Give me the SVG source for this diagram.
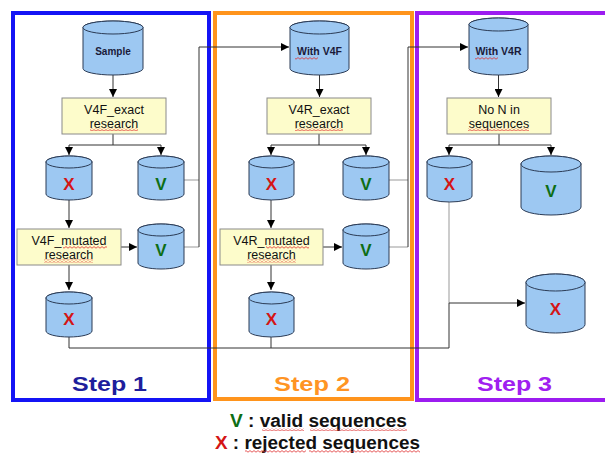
<svg xmlns="http://www.w3.org/2000/svg" width="605" height="453" viewBox="0 0 605 453">
<defs>
<style>
.cyl{fill:#9dc8f2;stroke:#2b3b55;stroke-width:1}
.box{fill:#fdfccb;stroke:#8a8a8a;stroke-width:1}
.lbl{font-family:"Liberation Sans",Arial,sans-serif;font-size:12.5px;fill:#111;text-anchor:middle}
.cl{font-family:"Liberation Sans",Arial,sans-serif;font-size:10.5px;font-weight:bold;fill:#1a1a3a;text-anchor:middle}
.x{font-family:"Liberation Sans",Arial,sans-serif;font-size:17px;font-weight:bold;fill:#d41515;text-anchor:middle}
.v{font-family:"Liberation Sans",Arial,sans-serif;font-size:17px;font-weight:bold;fill:#0d6e16;text-anchor:middle}
.step{font-family:"Liberation Sans",Arial,sans-serif;font-size:20px;font-weight:bold}
.leg{font-family:"Liberation Sans",Arial,sans-serif;font-size:18px;font-weight:bold;fill:#111}
.ln{fill:none;stroke:#333;stroke-width:1}
.lg{fill:none;stroke:#999;stroke-width:1}
.sq{fill:url(#wave)}
</style>
<marker id="arr" viewBox="0 0 10 10" refX="10" refY="5" markerWidth="8" markerHeight="8" markerUnits="userSpaceOnUse" orient="auto">
<path d="M0,0 L10,5 L0,10 z" fill="#000"/>
</marker>
<pattern id="wave" patternUnits="userSpaceOnUse" width="4" height="3">
<path d="M0,2.2 L2,0.6 L4,2.2" fill="none" stroke="#e03030" stroke-width="0.8"/>
</pattern>
</defs>
<rect width="605" height="453" fill="#fff"/>

<g id="steps">
<rect x="13" y="13" width="196" height="387" fill="none" stroke="#1414f5" stroke-width="4"/>
<rect x="215" y="13" width="197" height="386" fill="none" stroke="#ff941c" stroke-width="4"/>
<rect x="417" y="13" width="200" height="387" fill="none" stroke="#9c1cf0" stroke-width="4"/>
<text class="step" x="72" y="390.5" textLength="75" lengthAdjust="spacingAndGlyphs" fill="#1e1e9c">Step 1</text>
<text class="step" x="274" y="390.5" textLength="76" lengthAdjust="spacingAndGlyphs" fill="#ff9424">Step 2</text>
<text class="step" x="477" y="390.5" textLength="75" lengthAdjust="spacingAndGlyphs" fill="#a020f0">Step 3</text>
</g>

<g id="connectors">
<path class="ln" d="M113,75 V97" marker-end="url(#arr)"/>
<path class="ln" d="M113,134 V145 M69,145 H161"/>
<path class="ln" d="M69,145 V155" marker-end="url(#arr)"/>
<path class="ln" d="M161,145 V155" marker-end="url(#arr)"/>
<path class="ln" d="M69,200 V228" marker-end="url(#arr)"/>
<path class="ln" d="M121,247 H137" marker-end="url(#arr)"/>
<path class="ln" d="M69,265 V290" marker-end="url(#arr)"/>
<path class="lg" d="M184,180 H199 M184,247 H199"/>
<path class="ln" d="M199,247 V47 H289" marker-end="url(#arr)"/>

<path class="ln" d="M319.5,75 V97" marker-end="url(#arr)"/>
<path class="ln" d="M319,134 V145 M271,145 H366"/>
<path class="ln" d="M271,145 V155" marker-end="url(#arr)"/>
<path class="ln" d="M366,145 V155" marker-end="url(#arr)"/>
<path class="ln" d="M271,200 V228" marker-end="url(#arr)"/>
<path class="ln" d="M323,247 H342" marker-end="url(#arr)"/>
<path class="ln" d="M271,265 V290" marker-end="url(#arr)"/>
<path class="lg" d="M389,180 H408 M389,247 H408"/>
<path class="ln" d="M408,247 V47 H468" marker-end="url(#arr)"/>

<path class="ln" d="M498.5,75 V97" marker-end="url(#arr)"/>
<path class="ln" d="M499,134 V145 M449,145 H551"/>
<path class="ln" d="M449,145 V155" marker-end="url(#arr)"/>
<path class="ln" d="M551,145 V155" marker-end="url(#arr)"/>
<path class="lg" d="M449,202 V303"/>
<path class="ln" d="M69,337 V348 H449 V303 M271,337 V348"/>
<path class="ln" d="M449,303 H525" marker-end="url(#arr)"/>
</g>

<g id="sample">
<path class="cyl" d="M83,27.5 V68.5 A30,6.5 0 0 0 143,68.5 V27.5 A30,6.5 0 0 0 83,27.5 Z"/>
<ellipse class="cyl" cx="113" cy="27.5" rx="30" ry="6.5"/>
<text class="cl" x="113" y="55" style="font-size:10px">Sample</text>
</g>
<g id="v4f-exact">
<rect class="box" x="62" y="98" width="104" height="36"/>
<text class="lbl" x="114" y="114">V4F_exact</text>
<text class="lbl" x="114" y="127.5">research</text>
<rect class="sq" x="90" y="128" width="48" height="3"/>
</g>
<g id="x1a">
<path class="cyl" d="M46,162 V194 A23,6 0 0 0 92,194 V162 A23,6 0 0 0 46,162 Z"/>
<ellipse class="cyl" cx="69" cy="162" rx="23" ry="6"/>
<text class="x" x="69" y="189.5">X</text>
</g>
<g id="v1a">
<path class="cyl" d="M138,162 V194 A23,6 0 0 0 184,194 V162 A23,6 0 0 0 138,162 Z"/>
<ellipse class="cyl" cx="161" cy="162" rx="23" ry="6"/>
<text class="v" x="161" y="189.5">V</text>
</g>
<g id="v4f-mutated">
<rect class="box" x="17" y="229" width="104" height="36"/>
<text class="lbl" x="69" y="245">V4F_mutated</text>
<text class="lbl" x="69" y="258.5">research</text>
<rect class="sq" x="63" y="246" width="44" height="3"/>
<rect class="sq" x="44" y="259.5" width="49" height="3"/>
</g>
<g id="v1b">
<path class="cyl" d="M138,230 V263 A23,6 0 0 0 184,263 V230 A23,6 0 0 0 138,230 Z"/>
<ellipse class="cyl" cx="161" cy="230" rx="23" ry="6"/>
<text class="v" x="161" y="256">V</text>
</g>
<g id="x1b">
<path class="cyl" d="M46,298 V331 A23,6 0 0 0 92,331 V298 A23,6 0 0 0 46,298 Z"/>
<ellipse class="cyl" cx="69" cy="298" rx="23" ry="6"/>
<text class="x" x="69" y="325">X</text>
</g>

<g id="with-v4f">
<path class="cyl" d="M290,27.5 V68.5 A29.5,6.5 0 0 0 349,68.5 V27.5 A29.5,6.5 0 0 0 290,27.5 Z"/>
<ellipse class="cyl" cx="319.5" cy="27.5" rx="29.5" ry="6.5"/>
<text class="cl" x="319.5" y="55">With V4F</text>
<rect class="sq" x="295" y="57" width="23" height="3"/>
</g>
<g id="v4r-exact">
<rect class="box" x="267" y="98" width="104" height="36"/>
<text class="lbl" x="319" y="114">V4R_exact</text>
<text class="lbl" x="319" y="127.5">research</text>
<rect class="sq" x="295" y="128" width="48" height="3"/>
</g>
<g id="x2a">
<path class="cyl" d="M249,162 V194 A22.5,6 0 0 0 294,194 V162 A22.5,6 0 0 0 249,162 Z"/>
<ellipse class="cyl" cx="271.5" cy="162" rx="22.5" ry="6"/>
<text class="x" x="271.5" y="189.5">X</text>
</g>
<g id="v2a">
<path class="cyl" d="M343,162 V194 A23,6 0 0 0 389,194 V162 A23,6 0 0 0 343,162 Z"/>
<ellipse class="cyl" cx="366" cy="162" rx="23" ry="6"/>
<text class="v" x="366" y="189.5">V</text>
</g>
<g id="v4r-mutated">
<rect class="box" x="220" y="229" width="103" height="36"/>
<text class="lbl" x="271.5" y="245">V4R_mutated</text>
<text class="lbl" x="271.5" y="258.5">research</text>
<rect class="sq" x="266" y="246" width="43" height="3"/>
<rect class="sq" x="247" y="259.5" width="49" height="3"/>
</g>
<g id="v2b">
<path class="cyl" d="M343,230 V263 A23,6 0 0 0 389,263 V230 A23,6 0 0 0 343,230 Z"/>
<ellipse class="cyl" cx="366" cy="230" rx="23" ry="6"/>
<text class="v" x="366" y="256">V</text>
</g>
<g id="x2b">
<path class="cyl" d="M249,298 V331 A22.5,6 0 0 0 294,331 V298 A22.5,6 0 0 0 249,298 Z"/>
<ellipse class="cyl" cx="271.5" cy="298" rx="22.5" ry="6"/>
<text class="x" x="271.5" y="325">X</text>
</g>

<g id="with-v4r">
<path class="cyl" d="M469,24.5 V68.5 A29.5,6.5 0 0 0 528,68.5 V24.5 A29.5,6.5 0 0 0 469,24.5 Z"/>
<ellipse class="cyl" cx="498.5" cy="24.5" rx="29.5" ry="6.5"/>
<text class="cl" x="498.5" y="55">With V4R</text>
<rect class="sq" x="475" y="57" width="23" height="3"/>
</g>
<g id="no-n">
<rect class="box" x="447" y="98" width="104" height="36"/>
<text class="lbl" x="499" y="114">No N in</text>
<text class="lbl" x="499" y="127.5">sequences</text>
<rect class="sq" x="468" y="128" width="61" height="3"/>
</g>
<g id="x3a">
<path class="cyl" d="M427,162 V196 A22.5,6 0 0 0 472,196 V162 A22.5,6 0 0 0 427,162 Z"/>
<ellipse class="cyl" cx="449.5" cy="162" rx="22.5" ry="6"/>
<text class="x" x="449.5" y="189.5">X</text>
</g>
<g id="v3">
<path class="cyl" d="M521,164 V207 A30,8 0 0 0 581,207 V164 A30,8 0 0 0 521,164 Z"/>
<ellipse class="cyl" cx="551" cy="164" rx="30" ry="8"/>
<text class="v" x="551" y="197">V</text>
</g>
<g id="x3b">
<path class="cyl" d="M526,282.5 V324.5 A29.5,8.5 0 0 0 585,324.5 V282.5 A29.5,8.5 0 0 0 526,282.5 Z"/>
<ellipse class="cyl" cx="555.5" cy="282.5" rx="29.5" ry="8.5"/>
<text class="x" x="555.5" y="315">X</text>
</g>

<g id="legend">
<text class="leg" x="230" y="427" textLength="177" lengthAdjust="spacingAndGlyphs"><tspan fill="#0d6e16">V</tspan> : valid sequences</text>
<text class="leg" x="215" y="449" textLength="205" lengthAdjust="spacingAndGlyphs"><tspan fill="#d41515">X</tspan> : rejected sequences</text>
<rect class="sq" x="262" y="428" width="42" height="3"/>
<rect class="sq" x="310" y="428" width="97" height="3"/>
<rect class="sq" x="245" y="450" width="61" height="3"/>
<rect class="sq" x="309" y="450" width="111" height="3"/>
</g>
</svg>
